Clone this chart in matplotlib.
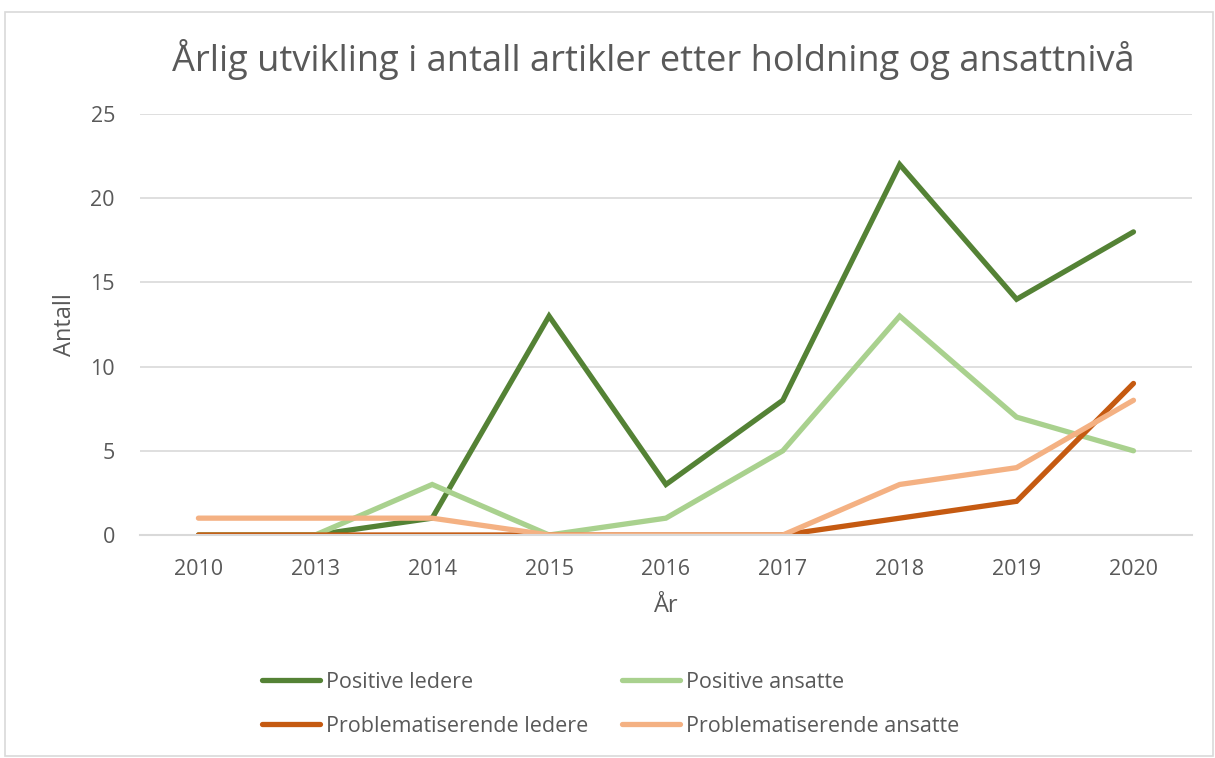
import matplotlib.pyplot as plt
from matplotlib.patches import Rectangle

# Data
years = ['2010', '2013', '2014', '2015', '2016', '2017', '2018', '2019', '2020']
positive_ledere = [0, 0, 1, 13, 3, 8, 22, 14, 18]
positive_ansatte = [0, 0, 3, 0, 1, 5, 13, 7, 5]
problem_ledere = [0, 0, 0, 0, 0, 0, 1, 2, 9]
problem_ansatte = [1, 1, 1, 0, 0, 0, 3, 4, 8]

text_color = '#595959'
plt.rcParams['font.family'] = ['Open Sans', 'DejaVu Sans']

fig = plt.figure(figsize=(12.15, 7.58), dpi=100)
ax = fig.add_axes([0.1152, 0.2942, 0.8658, 0.5554])

# Chart area border like in Excel
fig.patches.append(Rectangle((0.004, 0.003), 0.994, 0.981, transform=fig.transFigure,
                             fill=False, edgecolor='#d9d9d9', linewidth=1.2))

x = range(len(years))
series = [
    (positive_ledere, '#548235', 'Positive ledere'),
    (positive_ansatte, '#a9d18e', 'Positive ansatte'),
    (problem_ledere, '#c55a11', 'Problematiserende ledere'),
    (problem_ansatte, '#f4b183', 'Problematiserende ansatte'),
]
lines = {}
for vals, col, lab in series:
    lines[lab], = ax.plot(x, vals, color=col, linewidth=3.8, label=lab,
                          solid_capstyle='round', solid_joinstyle='miter')

ax.set_xlim(-0.5, len(years) - 0.5)
ax.set_ylim(0, 25)
ax.set_yticks(range(0, 26, 5))
ax.set_xticks(list(x))
ax.set_xticklabels(years)
ax.tick_params(length=0, labelsize=15.5, colors=text_color)
ax.tick_params(axis='x', pad=17)
ax.tick_params(axis='y', pad=18)
ax.grid(axis='y', color='#d9d9d9', linewidth=1.2)
ax.set_axisbelow(True)
for side in ['top', 'right', 'left']:
    ax.spines[side].set_visible(False)
ax.spines['bottom'].set_color('#d9d9d9')
ax.spines['bottom'].set_linewidth(1.5)

ax.set_xlabel('År', fontsize=17, color=text_color, va='center')
ax.xaxis.set_label_coords(0.5, -0.1686)
ax.set_ylabel('Antall', fontsize=17, color=text_color, va='center')
ax.yaxis.set_label_coords(-0.0713, 0.5)
fig.text(0.538, 0.921, 'Årlig utvikling i antall artikler etter holdning og ansattnivå',
         ha='center', va='center', fontsize=26, color=text_color)

order = ['Positive ledere', 'Problematiserende ledere',
         'Positive ansatte', 'Problematiserende ansatte']
leg = fig.legend([lines[k] for k in order], order, loc='upper left',
                 bbox_to_anchor=(262 / 1215, 1 - 672 / 758), ncol=2, frameon=False,
                 fontsize=15.5, handlelength=2.7, handletextpad=0.28, columnspacing=1.55,
                 labelspacing=1.05, borderpad=0, borderaxespad=0)
for t in leg.get_texts():
    t.set_color(text_color)

fig.savefig('out.png', dpi=100)
